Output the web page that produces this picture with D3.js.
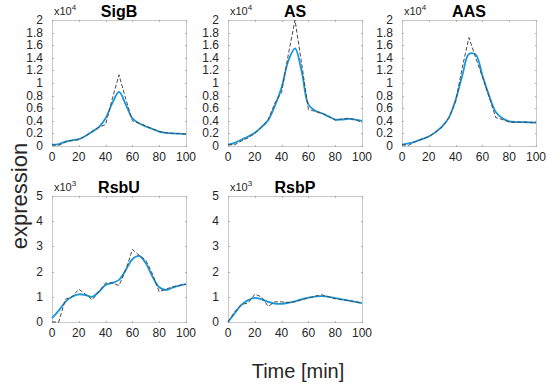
<!DOCTYPE html>
<meta charset="utf-8">
<style>
  body { margin: 0; background: #fff; }
  text { font-family: "Liberation Sans", Arial, sans-serif; fill: #262626; }
  .frame { fill: none; stroke: #c8c8c8; stroke-width: 1; }
  .tick-mark { stroke: #b0b0b0; stroke-width: 1; }
  .fit { fill: none; stroke: #1896da; stroke-width: 1.8; }
  .data { fill: none; stroke: #4a4a4a; stroke-width: 1; stroke-dasharray: 4,2; }
</style>
<body></body>
<script src="https://cdn.jsdelivr.net/npm/d3@7"></script>
<script>
// time points (min)
var time = [0,5,10,15,20,25,30,35,40,45,50,55,60,65,70,75,80,85,90,95,100];

// fitted curves (blue) and measured data (dashed), in units of x10^4 or x10^3
var sigbFit  = [0.02,0.03,0.07,0.09,0.11,0.16,0.23,0.30,0.44,0.68,0.86,0.66,0.44,0.36,0.31,0.27,0.23,0.21,0.20,0.195,0.19];
var sigbData = [0.02,0.01,0.06,0.09,0.10,0.16,0.22,0.30,0.34,0.75,1.13,0.75,0.40,0.36,0.32,0.27,0.23,0.21,0.20,0.195,0.19];
var asFit    = [0.02,0.05,0.10,0.15,0.21,0.30,0.41,0.64,0.93,1.35,1.55,1.18,0.66,0.56,0.52,0.47,0.42,0.42,0.43,0.42,0.40];
var asData   = [0.02,0.02,0.08,0.13,0.20,0.30,0.42,0.68,0.85,1.45,2.00,1.30,0.58,0.55,0.52,0.47,0.41,0.43,0.44,0.42,0.37];
var aasFit   = [0.02,0.04,0.07,0.11,0.15,0.22,0.31,0.45,0.73,1.12,1.46,1.45,1.12,0.80,0.54,0.44,0.39,0.38,0.38,0.375,0.37];
var aasData  = [0.02,0.01,0.07,0.11,0.15,0.22,0.30,0.45,0.70,1.25,1.72,1.40,1.10,0.78,0.45,0.42,0.38,0.38,0.38,0.375,0.37];
var rsbuFit  = [0.15,0.45,0.80,1.00,1.10,1.07,1.00,1.20,1.47,1.55,1.67,2.06,2.49,2.62,2.33,1.80,1.38,1.27,1.36,1.44,1.50];
var rsbuData = [0.00,0.00,0.90,1.00,1.30,1.10,0.88,1.20,1.55,1.55,1.45,2.05,2.88,2.65,2.45,1.90,1.20,1.30,1.40,1.45,1.50];
var rsbpFit  = [0.00,0.35,0.68,0.87,0.96,0.90,0.80,0.73,0.72,0.76,0.82,0.90,0.97,1.01,1.03,1.00,0.95,0.90,0.85,0.80,0.75];
var rsbpData = [0.00,0.40,0.70,0.75,1.10,1.00,0.62,0.80,0.80,0.78,0.80,0.88,0.95,1.02,1.08,1.00,0.92,0.88,0.85,0.80,0.75];

var xTicks = [0,20,40,60,80,100];
var yTicksTop = [0,0.2,0.4,0.6,0.8,1,1.2,1.4,1.6,1.8,2];
var yTicksBottom = [0,1,2,3,4,5];

var panels = [
  {name: "SigB", fit: sigbFit, data: sigbData, col: 0, row: 0, ymax: 2, ticks: yTicksTop, exp: "4"},
  {name: "AS",   fit: asFit,   data: asData,   col: 1, row: 0, ymax: 2, ticks: yTicksTop, exp: "4"},
  {name: "AAS",  fit: aasFit,  data: aasData,  col: 2, row: 0, ymax: 2, ticks: yTicksTop, exp: "4"},
  {name: "RsbU", fit: rsbuFit, data: rsbuData, col: 0, row: 1, ymax: 5, ticks: yTicksBottom, exp: "3"},
  {name: "RsbP", fit: rsbpFit, data: rsbpData, col: 1, row: 1, ymax: 5, ticks: yTicksBottom, exp: "3"}
];

var colLeft = [52, 228, 402], rowTop = [20, 196];
var pw = 134, ph = 126;

var svg = d3.select("body").append("svg")
    .attr("width", 550)
    .attr("height", 387);

panels.forEach(function (p) {
  var g = svg.append("g")
      .attr("transform", "translate(" + colLeft[p.col] + "," + rowTop[p.row] + ")");

  var x = d3.scaleLinear().domain([0, 100]).range([0, pw]);
  var y = d3.scaleLinear().domain([0, p.ymax]).range([ph, 0]);

  g.append("rect").attr("class", "frame")
      .attr("x", 0.5).attr("y", 0.5).attr("width", pw).attr("height", ph);

  // inward ticks on all four sides, MATLAB style
  p.ticks.forEach(function (t) {
    var yy = Math.round(y(t)) + 0.5;
    g.append("line").attr("class", "tick-mark").attr("x1", 0).attr("x2", 2).attr("y1", yy).attr("y2", yy);
    g.append("line").attr("class", "tick-mark").attr("x1", pw - 1).attr("x2", pw + 1).attr("y1", yy).attr("y2", yy);
    g.append("text").attr("x", -9).attr("y", y(t) + 4)
        .attr("text-anchor", "end").attr("font-size", "12px").text(t);
  });
  xTicks.forEach(function (t) {
    var xx = Math.round(x(t)) + 0.5;
    g.append("line").attr("class", "tick-mark").attr("x1", xx).attr("x2", xx).attr("y1", ph - 1).attr("y2", ph + 1);
    g.append("line").attr("class", "tick-mark").attr("x1", xx).attr("x2", xx).attr("y1", 0).attr("y2", 2);
    g.append("text").attr("x", x(t)).attr("y", ph + 15)
        .attr("text-anchor", "middle").attr("font-size", "12px").text(t);
  });

  // exponent label
  var ex = g.append("text").attr("x", 2).attr("y", -5).attr("font-size", "11px");
  ex.append("tspan").text("x10");
  ex.append("tspan").attr("dy", -5).attr("font-size", "8px").text(p.exp);

  g.append("text").attr("x", pw / 2).attr("y", -3)
      .attr("text-anchor", "middle").attr("font-size", "16px").attr("font-weight", "bold")
      .style("fill", "#000").text(p.name);

  var dataLine = d3.line().x(function (d, i) { return x(time[i]); }).y(function (d) { return y(d); });
  var fitLine = d3.line().x(function (d, i) { return x(time[i]); }).y(function (d) { return y(d); })
      .curve(d3.curveCatmullRom.alpha(0.5));

  g.append("path").datum(p.fit).attr("class", "fit").attr("d", fitLine);
  g.append("path").datum(p.data).attr("class", "data").attr("d", dataLine);
});

svg.append("text")
    .attr("transform", "translate(27,196) rotate(-90)")
    .attr("text-anchor", "middle").attr("font-size", "22px")
    .text("expression");

svg.append("text")
    .attr("x", 298).attr("y", 378)
    .attr("text-anchor", "middle").attr("font-size", "20px")
    .text("Time [min]");
</script>
